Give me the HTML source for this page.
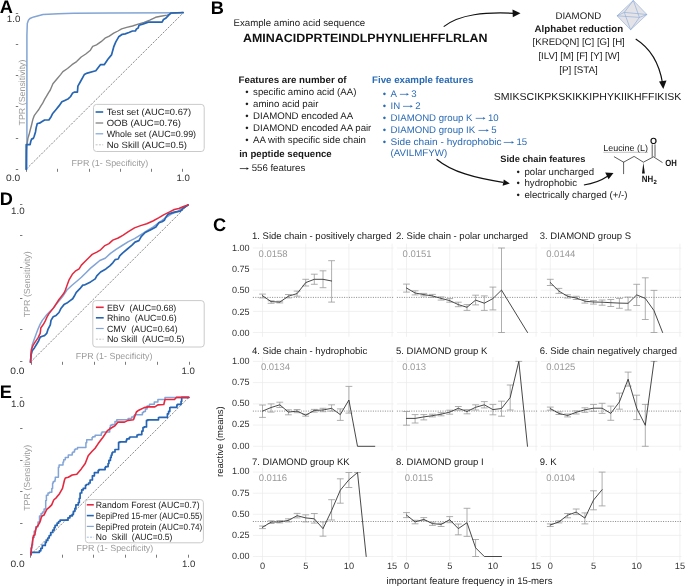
<!DOCTYPE html>
<html><head><meta charset="utf-8"><title>Figure</title>
<style>html,body{margin:0;padding:0;background:#fff;} svg{display:block;will-change:transform;} text{font-family:"Liberation Sans", sans-serif;text-rendering:geometricPrecision;}</style>
</head><body>
<svg width="685" height="588" viewBox="0 0 685 588" font-family='"Liberation Sans", sans-serif'><line x1="15.8" y1="169.5" x2="18.2" y2="169.5" stroke="#7a7a7a" stroke-width="1.0"/>
<line x1="15.8" y1="138.5" x2="18.2" y2="138.5" stroke="#7a7a7a" stroke-width="1.0"/>
<line x1="15.8" y1="106.5" x2="18.2" y2="106.5" stroke="#7a7a7a" stroke-width="1.0"/>
<line x1="15.8" y1="75.5" x2="18.2" y2="75.5" stroke="#7a7a7a" stroke-width="1.0"/>
<line x1="15.8" y1="44.5" x2="18.2" y2="44.5" stroke="#7a7a7a" stroke-width="1.0"/>
<line x1="15.8" y1="13.5" x2="18.2" y2="13.5" stroke="#7a7a7a" stroke-width="1.0"/>
<line x1="26.5" y1="168.8" x2="26.5" y2="171.8" stroke="#7a7a7a" stroke-width="1.0"/>
<line x1="57.5" y1="168.8" x2="57.5" y2="171.8" stroke="#7a7a7a" stroke-width="1.0"/>
<line x1="89.5" y1="168.8" x2="89.5" y2="171.8" stroke="#7a7a7a" stroke-width="1.0"/>
<line x1="120.5" y1="168.8" x2="120.5" y2="171.8" stroke="#7a7a7a" stroke-width="1.0"/>
<line x1="151.5" y1="168.8" x2="151.5" y2="171.8" stroke="#7a7a7a" stroke-width="1.0"/>
<line x1="182.5" y1="168.8" x2="182.5" y2="171.8" stroke="#7a7a7a" stroke-width="1.0"/>
<text x="20.4" y="22.2" font-size="9.3" fill="#333" text-anchor="end" textLength="13.6" lengthAdjust="spacingAndGlyphs">1.0</text>
<text x="20.3" y="181.1" font-size="9.3" fill="#333" text-anchor="end" textLength="14.2" lengthAdjust="spacingAndGlyphs">0.0</text>
<text x="183.1" y="181.1" font-size="9.3" fill="#333" text-anchor="middle" textLength="13.4" lengthAdjust="spacingAndGlyphs">1.0</text>
<text transform="translate(25.3,92.5) rotate(-90)" font-size="8.8" fill="#9a9a9a" text-anchor="middle" textLength="66" lengthAdjust="spacingAndGlyphs">TPR (Sensitivity)</text>
<text x="71.5" y="166.1" font-size="8.8" fill="#9a9a9a" textLength="76.8" lengthAdjust="spacingAndGlyphs">FPR (1- Specificity)</text>
<line x1="26.4" y1="169.0" x2="183.3" y2="12.8" stroke="#666" stroke-width="0.75" stroke-dasharray="2.2,1.3"/>
<path d="M26.9,169.2 L26.9,95.0 L26.9,35.6 L27.3,23.4 L28.4,20.3 L29.9,18.5 L33.8,16.9 L43.0,14.6 L58.3,13.7 L73.6,13.2 L110.0,12.9 L183.3,12.8" fill="none" stroke="#82a4d6" stroke-width="1.5" stroke-linejoin="round" stroke-linecap="round"/>
<path d="M26.2,169.2 L26.5,150.7 L27.2,143.5 L27.9,138.4 L29.0,134.8 L30.1,130.5 L31.6,124.7 L33.0,118.9 L34.4,115.3 L36.6,112.4 L38.8,109.5 L40.9,105.9 L42.4,103.7 L44.6,99.4 L46.7,95.8 L48.9,92.2 L50.3,90.0 L52.9,83.8 L56.7,79.2 L60.6,74.6 L62.9,71.6 L67.5,68.5 L72.0,64.7 L76.6,61.6 L81.2,57.0 L85.8,54.0 L90.4,50.2 L92.7,46.3 L96.5,44.8 L101.1,41.7 L105.0,38.2 L109.3,36.1 L113.7,33.2 L118.0,31.0 L121.6,28.9 L126.7,27.4 L132.5,26.0 L138.2,24.1 L144.0,22.3 L149.8,20.2 L155.6,17.3 L160.7,16.3 L167.2,15.1 L171.5,13.4 L183.1,12.5" fill="none" stroke="#828282" stroke-width="1.4" stroke-linejoin="round" stroke-linecap="round"/>
<path d="M26.2,169.2 L26.2,144.6 L30.1,144.6 L30.8,141.3 L31.6,139.1 L33.3,138.4 L34.2,136.2 L35.5,131.9 L36.2,127.6 L37.3,123.5 L39.5,123.2 L41.7,121.8 L44.6,120.0 L48.9,120.0 L51.1,116.7 L52.5,113.8 L56.1,109.5 L59.0,105.9 L61.9,101.8 L64.8,100.4 L68.4,98.7 L70.6,96.5 L72.7,92.9 L74.2,92.2 L77.4,92.2 L77.9,86.1 L80.5,81.5 L84.3,74.6 L87.3,73.1 L95.8,70.8 L100.4,64.7 L104.2,64.7 L107.9,59.2 L111.5,54.9 L113.7,46.9 L115.8,41.9 L118.7,36.8 L122.3,34.3 L125.2,33.9 L128.9,32.5 L132.5,31.0 L135.4,31.0 L136.5,28.9 L138.2,28.1 L139.0,25.2 L142.6,24.1 L148.4,22.1 L162.1,22.1 L163.5,19.5 L165.7,18.3 L170.8,13.0 L183.1,12.5" fill="none" stroke="#2565b3" stroke-width="1.7" stroke-linejoin="round" stroke-linecap="round"/>
<rect x="93.5" y="104.4" width="110.7" height="47.1" rx="3" fill="#fff" stroke="#c4c4c4" stroke-width="0.9"/>
<line x1="95.6" y1="112.0" x2="103.2" y2="112.0" stroke="#2565b3" stroke-width="1.6"/>
<text x="106.7" y="115.2" font-size="9.0" fill="#1a1a1a" textLength="84.5" lengthAdjust="spacingAndGlyphs">Test set (AUC=0.67)</text>
<line x1="95.6" y1="123.0" x2="103.2" y2="123.0" stroke="#828282" stroke-width="1.3"/>
<text x="106.7" y="126.2" font-size="9.0" fill="#1a1a1a" textLength="74.2" lengthAdjust="spacingAndGlyphs">OOB (AUC=0.76)</text>
<line x1="95.6" y1="133.8" x2="103.2" y2="133.8" stroke="#82a4d6" stroke-width="1.2"/>
<text x="106.7" y="137.0" font-size="9.0" fill="#1a1a1a" textLength="89.4" lengthAdjust="spacingAndGlyphs">Whole set (AUC=0.99)</text>
<line x1="95.6" y1="144.8" x2="103.2" y2="144.8" stroke="#aaa" stroke-width="0.7" stroke-dasharray="2,1.3"/>
<text x="106.7" y="148.0" font-size="9.0" fill="#1a1a1a" textLength="80.3" lengthAdjust="spacingAndGlyphs">No Skill (AUC=0.5)</text>
<line x1="20.0" y1="361.5" x2="22.4" y2="361.5" stroke="#7a7a7a" stroke-width="1.0"/>
<line x1="20.0" y1="329.5" x2="22.4" y2="329.5" stroke="#7a7a7a" stroke-width="1.0"/>
<line x1="20.0" y1="298.5" x2="22.4" y2="298.5" stroke="#7a7a7a" stroke-width="1.0"/>
<line x1="20.0" y1="267.5" x2="22.4" y2="267.5" stroke="#7a7a7a" stroke-width="1.0"/>
<line x1="20.0" y1="235.5" x2="22.4" y2="235.5" stroke="#7a7a7a" stroke-width="1.0"/>
<line x1="20.0" y1="204.5" x2="22.4" y2="204.5" stroke="#7a7a7a" stroke-width="1.0"/>
<line x1="31.5" y1="361.8" x2="31.5" y2="364.8" stroke="#7a7a7a" stroke-width="1.0"/>
<line x1="62.5" y1="361.8" x2="62.5" y2="364.8" stroke="#7a7a7a" stroke-width="1.0"/>
<line x1="94.5" y1="361.8" x2="94.5" y2="364.8" stroke="#7a7a7a" stroke-width="1.0"/>
<line x1="125.5" y1="361.8" x2="125.5" y2="364.8" stroke="#7a7a7a" stroke-width="1.0"/>
<line x1="157.5" y1="361.8" x2="157.5" y2="364.8" stroke="#7a7a7a" stroke-width="1.0"/>
<line x1="189.5" y1="361.8" x2="189.5" y2="364.8" stroke="#7a7a7a" stroke-width="1.0"/>
<text x="24.6" y="214.0" font-size="9.3" fill="#333" text-anchor="end" textLength="13.6" lengthAdjust="spacingAndGlyphs">1.0</text>
<text x="24.5" y="374.1" font-size="9.3" fill="#333" text-anchor="end" textLength="14.2" lengthAdjust="spacingAndGlyphs">0.0</text>
<text x="188.1" y="374.1" font-size="9.3" fill="#333" text-anchor="middle" textLength="13.4" lengthAdjust="spacingAndGlyphs">1.0</text>
<text transform="translate(29.7,284.3) rotate(-90)" font-size="8.8" fill="#9a9a9a" text-anchor="middle" textLength="66" lengthAdjust="spacingAndGlyphs">TPR (Sensitivity)</text>
<text x="75.8" y="358.8" font-size="8.8" fill="#9a9a9a" textLength="76.7" lengthAdjust="spacingAndGlyphs">FPR (1- Specificity)</text>
<line x1="30.6" y1="362.0" x2="188.3" y2="204.6" stroke="#666" stroke-width="0.75" stroke-dasharray="2.2,1.3"/>
<path d="M30.5,362.3 L31.1,352.2 L32.2,345.0 L33.7,340.7 L35.8,334.9 L38.0,329.1 L40.2,324.1 L42.3,320.4 L44.5,317.6 L46.7,314.7 L49.6,311.8 L53.2,308.2 L56.1,304.6 L59.0,300.9 L62.6,296.6 L66.9,290.0 L72.3,285.0 L76.8,281.2 L81.4,277.3 L86.0,272.7 L90.6,268.1 L95.2,264.3 L99.8,260.5 L105.2,258.2 L110.5,253.4 L116.1,249.3 L122.2,245.5 L128.4,241.7 L134.5,238.6 L140.6,234.8 L146.7,231.0 L152.9,227.1 L159.0,222.6 L165.1,218.0 L171.2,214.1 L177.3,211.8 L183.5,207.2 L188.1,205.0" fill="none" stroke="#82a4d6" stroke-width="1.5" stroke-linejoin="round" stroke-linecap="round"/>
<path d="M30.5,362.3 L31.1,355.1 L32.2,350.8 L34.4,347.9 L36.6,344.3 L38.7,340.7 L40.2,337.1 L42.3,336.3 L44.5,335.6 L46.7,333.4 L48.1,329.1 L50.3,324.8 L51.0,320.4 L53.2,316.8 L56.1,315.4 L59.0,312.5 L61.1,308.2 L64.0,304.6 L66.9,303.1 L69.8,300.9 L72.7,298.8 L74.8,295.2 L76.3,292.3 L79.9,288.7 L82.8,285.1 L84.5,285.0 L90.6,281.9 L95.2,278.9 L96.8,275.8 L100.6,272.0 L105.9,268.9 L109.8,265.8 L112.8,262.8 L115.1,259.7 L118.2,259.0 L119.7,255.9 L122.8,252.8 L127.4,249.0 L132.0,245.2 L135.0,242.1 L138.9,240.6 L141.4,236.3 L145.2,232.5 L151.3,229.4 L155.9,227.1 L159.0,222.6 L162.0,221.8 L164.3,220.3 L165.9,217.2 L168.2,214.1 L174.3,212.1 L180.4,211.1 L183.5,208.0 L188.1,205.0" fill="none" stroke="#2565b3" stroke-width="1.7" stroke-linejoin="round" stroke-linecap="round"/>
<path d="M30.5,362.3 L30.8,356.6 L31.5,349.3 L32.9,345.7 L35.1,342.1 L38.0,337.8 L40.2,333.4 L40.9,327.7 L43.1,324.8 L45.2,321.2 L46.7,317.6 L48.8,313.9 L51.0,311.1 L53.9,307.4 L56.1,303.8 L59.0,299.5 L61.8,295.9 L64.0,293.0 L65.4,290.0 L66.9,285.8 L69.2,279.6 L72.3,274.3 L75.3,271.2 L79.1,268.9 L81.4,265.1 L84.5,262.0 L88.3,258.2 L92.2,254.4 L96.8,252.1 L100.6,249.8 L104.4,245.9 L109.0,243.6 L112.8,240.1 L118.2,238.0 L122.8,235.3 L128.4,231.7 L134.5,227.9 L140.6,225.6 L146.7,223.8 L152.9,221.0 L159.0,217.7 L163.6,214.9 L169.7,211.8 L174.3,209.5 L178.9,208.5 L183.5,206.5 L188.1,205.0" fill="none" stroke="#e5283e" stroke-width="1.5" stroke-linejoin="round" stroke-linecap="round"/>
<rect x="92.8" y="300.6" width="111.4" height="46.4" rx="3" fill="#fff" stroke="#c4c4c4" stroke-width="0.9"/>
<line x1="95.9" y1="307.3" x2="103.7" y2="307.3" stroke="#e5283e" stroke-width="1.6"/>
<text x="106.9" y="310.5" font-size="9.0" fill="#1a1a1a" textLength="69.4" lengthAdjust="spacingAndGlyphs">EBV  (AUC=0.68)</text>
<line x1="95.9" y1="317.8" x2="103.7" y2="317.8" stroke="#2565b3" stroke-width="1.6"/>
<text x="106.9" y="321.0" font-size="9.0" fill="#1a1a1a" textLength="69.8" lengthAdjust="spacingAndGlyphs">Rhino  (AUC=0.6)</text>
<line x1="95.9" y1="328.5" x2="103.7" y2="328.5" stroke="#82a4d6" stroke-width="1.2"/>
<text x="106.9" y="331.7" font-size="9.0" fill="#1a1a1a" textLength="70.7" lengthAdjust="spacingAndGlyphs">CMV  (AUC=0.64)</text>
<line x1="95.9" y1="339.2" x2="103.7" y2="339.2" stroke="#aaa" stroke-width="0.7" stroke-dasharray="2,1.3"/>
<text x="106.9" y="342.4" font-size="9.0" fill="#1a1a1a" textLength="77.6" lengthAdjust="spacingAndGlyphs">No Skill  (AUC=0.5)</text>
<line x1="20.1" y1="554.5" x2="22.5" y2="554.5" stroke="#7a7a7a" stroke-width="1.0"/>
<line x1="20.1" y1="523.5" x2="22.5" y2="523.5" stroke="#7a7a7a" stroke-width="1.0"/>
<line x1="20.1" y1="491.5" x2="22.5" y2="491.5" stroke="#7a7a7a" stroke-width="1.0"/>
<line x1="20.1" y1="460.5" x2="22.5" y2="460.5" stroke="#7a7a7a" stroke-width="1.0"/>
<line x1="20.1" y1="428.5" x2="22.5" y2="428.5" stroke="#7a7a7a" stroke-width="1.0"/>
<line x1="20.1" y1="397.5" x2="22.5" y2="397.5" stroke="#7a7a7a" stroke-width="1.0"/>
<line x1="30.5" y1="554.7" x2="30.5" y2="557.7" stroke="#7a7a7a" stroke-width="1.0"/>
<line x1="62.5" y1="554.7" x2="62.5" y2="557.7" stroke="#7a7a7a" stroke-width="1.0"/>
<line x1="93.5" y1="554.7" x2="93.5" y2="557.7" stroke="#7a7a7a" stroke-width="1.0"/>
<line x1="125.5" y1="554.7" x2="125.5" y2="557.7" stroke="#7a7a7a" stroke-width="1.0"/>
<line x1="156.5" y1="554.7" x2="156.5" y2="557.7" stroke="#7a7a7a" stroke-width="1.0"/>
<line x1="188.5" y1="554.7" x2="188.5" y2="557.7" stroke="#7a7a7a" stroke-width="1.0"/>
<text x="24.7" y="406.8" font-size="9.3" fill="#333" text-anchor="end" textLength="13.6" lengthAdjust="spacingAndGlyphs">1.0</text>
<text x="24.6" y="567.0" font-size="9.3" fill="#333" text-anchor="end" textLength="14.2" lengthAdjust="spacingAndGlyphs">0.0</text>
<text x="188.6" y="567.0" font-size="9.3" fill="#333" text-anchor="middle" textLength="13.4" lengthAdjust="spacingAndGlyphs">1.0</text>
<text transform="translate(29.7,477.8) rotate(-90)" font-size="8.8" fill="#9a9a9a" text-anchor="middle" textLength="66" lengthAdjust="spacingAndGlyphs">TPR (Sensitivity)</text>
<text x="76.5" y="551.3" font-size="8.8" fill="#9a9a9a" textLength="76.8" lengthAdjust="spacingAndGlyphs">FPR (1- Specificity)</text>
<line x1="30.7" y1="554.9" x2="188.8" y2="397.4" stroke="#666" stroke-width="0.75" stroke-dasharray="2.2,1.3"/>
<path d="M30.8,555.0 L30.8,548.1 L31.9,548.1 L31.9,545.0 L32.7,545.0 L32.7,537.4 L34.2,537.4 L34.2,531.3 L35.7,531.3 L35.7,526.7 L38.0,526.7 L38.0,522.1 L39.5,522.1 L39.5,515.9 L41.1,515.9 L41.1,513.6 L42.6,513.6 L42.6,512.1 L44.1,512.1 L44.1,509.0 L45.7,509.0 L45.7,500.6 L46.4,500.6 L46.4,495.3 L48.0,495.3 L48.0,493.0 L49.5,493.0 L49.5,492.2 L51.8,492.2 L51.8,488.4 L52.6,488.4 L52.6,483.0 L53.3,483.0 L53.3,481.5 L54.9,481.5 L54.9,480.0 L55.3,480.0 L55.3,477.3 L56.1,477.3 L58.4,477.3 L58.4,467.3 L59.1,467.3 L59.1,465.0 L59.9,465.0 L63.0,465.0 L63.0,462.0 L63.7,462.0 L63.7,459.7 L65.3,459.7 L65.3,457.4 L66.0,457.4 L68.3,457.4 L68.3,455.1 L69.1,455.1 L72.2,455.1 L72.2,452.8 L72.9,452.8 L72.9,452.0 L74.5,452.0 L74.5,449.7 L75.2,449.7 L75.2,449.0 L77.5,449.0 L77.5,447.4 L85.9,447.4 L85.9,442.8 L86.7,442.8 L86.7,439.8 L87.5,439.8 L92.1,439.8 L92.1,437.5 L92.8,437.5 L92.8,436.7 L95.1,436.7 L95.1,435.2 L101.3,435.2 L101.3,432.9 L102.0,432.9 L102.0,432.1 L104.3,432.1 L109.7,432.1 L109.7,427.5 L110.4,427.5 L110.4,425.2 L112.0,425.2 L112.0,424.5 L115.0,424.5 L115.0,421.5 L116.8,421.5 L116.8,419.8 L117.4,419.8 L128.1,419.8 L128.1,418.6 L131.7,418.6 L131.7,417.1 L133.5,417.1 L133.5,416.0 L134.6,416.0 L134.6,414.8 L135.8,414.8 L142.4,414.8 L142.4,412.6 L143.6,412.6 L143.6,411.4 L145.4,411.4 L145.4,409.0 L147.1,409.0 L147.1,406.1 L149.5,406.1 L149.5,404.9 L149.5,404.3 L154.3,404.3 L154.3,402.5 L154.3,401.9 L157.9,401.9 L157.9,399.8 L157.9,399.5 L165.0,399.5 L165.0,397.4 L188.8,397.4" fill="none" stroke="#82a4d6" stroke-width="1.5" stroke-linejoin="round" stroke-linecap="round"/>
<path d="M31.0,554.7 L31.0,552.3 L39.4,552.3 L39.4,550.8 L40.8,550.8 L40.8,548.3 L42.3,548.3 L42.3,545.4 L45.3,545.4 L45.3,542.4 L46.3,542.4 L46.3,540.4 L47.8,540.4 L47.8,538.0 L49.2,538.0 L49.2,535.5 L50.7,535.5 L50.7,532.5 L52.7,532.5 L52.7,530.1 L54.2,530.1 L54.2,527.6 L55.1,527.6 L55.1,525.4 L57.1,525.4 L57.1,523.2 L58.6,523.2 L58.6,521.5 L60.1,521.5 L60.1,520.2 L68.0,520.2 L68.0,517.8 L69.9,517.8 L69.9,515.8 L72.4,515.8 L72.4,514.3 L73.4,514.3 L73.4,511.3 L74.9,511.3 L74.9,508.4 L75.9,508.4 L75.9,504.9 L78.3,504.9 L78.3,502.5 L79.3,502.5 L79.3,500.0 L79.3,498.3 L80.1,498.3 L80.1,493.0 L81.7,493.0 L81.7,489.9 L83.2,489.9 L83.2,488.4 L85.5,488.4 L85.5,485.3 L86.3,485.3 L86.3,484.5 L88.6,484.5 L88.6,483.0 L90.1,483.0 L90.1,480.0 L92.4,480.0 L92.4,475.8 L94.4,475.8 L94.4,472.7 L95.1,472.7 L98.2,472.7 L98.2,470.4 L99.0,470.4 L99.0,469.6 L102.0,469.6 L105.1,469.6 L105.1,467.3 L105.8,467.3 L105.8,466.6 L108.1,466.6 L108.1,463.5 L108.9,463.5 L108.9,460.4 L110.4,460.4 L110.4,457.4 L111.2,457.4 L111.2,455.1 L112.0,455.1 L112.0,452.8 L112.7,452.8 L112.7,452.0 L115.0,452.0 L115.0,449.5 L118.6,449.5 L118.6,442.4 L119.8,442.4 L119.8,441.8 L126.3,441.8 L126.3,440.0 L126.9,440.0 L126.9,438.8 L129.3,438.8 L129.3,437.6 L129.9,437.6 L129.9,437.0 L137.0,437.0 L137.0,435.0 L138.2,435.0 L138.2,434.6 L141.8,434.6 L141.8,431.1 L143.0,431.1 L143.0,427.5 L144.2,427.5 L144.2,426.9 L146.5,426.9 L146.5,420.4 L147.7,420.4 L147.7,419.8 L158.5,419.8 L158.5,417.6 L159.0,417.6 L159.0,417.4 L167.4,417.4 L167.4,413.8 L168.6,413.8 L168.6,411.4 L169.8,411.4 L169.8,407.6 L170.4,407.6 L170.4,407.3 L176.9,407.3 L176.9,404.9 L177.5,404.9 L177.5,404.3 L181.1,404.3 L181.1,401.3 L181.7,401.3 L181.7,397.4 L182.3,397.4 L188.8,397.4" fill="none" stroke="#2565b3" stroke-width="1.7" stroke-linejoin="round" stroke-linecap="round"/>
<path d="M31.0,554.7 L31.5,548.3 L32.5,541.4 L33.5,535.5 L34.9,535.0 L35.4,530.6 L36.4,527.6 L37.9,525.6 L39.4,523.2 L40.4,520.7 L41.3,517.3 L42.3,515.8 L43.8,515.3 L45.3,512.3 L46.8,509.4 L49.2,507.4 L51.7,504.9 L53.7,500.0 L56.4,497.6 L59.5,493.7 L62.5,488.4 L64.5,480.0 L65.3,478.1 L68.3,477.3 L72.2,475.0 L76.8,474.2 L81.3,468.9 L85.2,463.5 L88.2,455.8 L92.1,451.3 L95.1,448.2 L98.2,443.6 L102.8,437.5 L107.4,430.6 L112.0,427.5 L115.0,425.7 L118.0,422.1 L124.5,422.1 L128.1,420.4 L133.5,419.8 L136.4,412.0 L138.8,410.2 L144.2,407.6 L148.3,406.9 L154.9,406.9 L157.9,404.9 L163.8,404.5 L165.0,399.5 L174.5,399.5 L176.3,397.4 L188.8,397.4" fill="none" stroke="#e5283e" stroke-width="1.6" stroke-linejoin="round" stroke-linecap="round"/>
<rect x="85.4" y="499.6" width="118.0" height="43.2" rx="3" fill="#fff" stroke="#c4c4c4" stroke-width="0.9"/>
<line x1="86.8" y1="504.8" x2="93.8" y2="504.8" stroke="#e5283e" stroke-width="1.6"/>
<text x="95.8" y="508.0" font-size="9.0" fill="#1a1a1a" textLength="103.8" lengthAdjust="spacingAndGlyphs">Random Forest (AUC=0.7)</text>
<line x1="86.8" y1="515.6" x2="93.8" y2="515.6" stroke="#2565b3" stroke-width="1.6"/>
<text x="95.8" y="518.8" font-size="9.0" fill="#1a1a1a" textLength="106.4" lengthAdjust="spacingAndGlyphs">BepiPred 15-mer (AUC=0.55)</text>
<line x1="86.8" y1="526.4" x2="93.8" y2="526.4" stroke="#82a4d6" stroke-width="1.2"/>
<text x="95.8" y="529.6" font-size="9.0" fill="#1a1a1a" textLength="106.4" lengthAdjust="spacingAndGlyphs">BepiPred protein (AUC=0.74)</text>
<line x1="86.8" y1="537.2" x2="93.8" y2="537.2" stroke="#82a4d6" stroke-width="0.7" stroke-dasharray="2,1.3"/>
<text x="95.8" y="540.4" font-size="9.0" fill="#1a1a1a" textLength="76.6" lengthAdjust="spacingAndGlyphs">No  Skill  (AUC=0.5)</text>
<text x="-0.2" y="12.9" font-size="18.2" fill="#000" font-weight="bold">A</text>
<text x="210.7" y="14.0" font-size="18.2" fill="#000" font-weight="bold">B</text>
<text x="-0.3" y="204.6" font-size="18.2" fill="#000" font-weight="bold">D</text>
<text x="-0.3" y="397.6" font-size="18.2" fill="#000" font-weight="bold">E</text>
<text x="212.9" y="231.2" font-size="18.2" fill="#000" font-weight="bold">C</text>
<text x="233.5" y="26.3" font-size="9.65" fill="#1a1a1a" textLength="131.6" lengthAdjust="spacingAndGlyphs">Example amino acid sequence</text>
<text x="243.0" y="42.0" font-size="12.0" fill="#111" font-weight="bold" textLength="244.6" lengthAdjust="spacingAndGlyphs">AMINACIDPRTEINDLPHYNLIEHFFLRLAN</text>
<path d="M443.7,26.6 C460,14 485,12 514,13.3" fill="none" stroke="#111" stroke-width="1.2"/>
<path d="M520.5,13.2 L512.5,9.4 L512.8,17.2 Z" fill="#111"/>
<g stroke="#86a8d6" stroke-width="0.6" fill="none" stroke-linejoin="round"><path d="M633.3,0.4 L617.1,15.8 L630.6,29.8 L646.9,14.5Z" fill="#e4e4e8"/><path d="M633.3,0.4 L624.3,12.4 L630.6,29.8"/><path d="M633.3,0.4 L639.4,17.4 L630.6,29.8"/><path d="M617.1,15.8 L624.3,12.4 L646.9,14.5 L639.4,17.4 L617.1,15.8"/></g>
<text x="555.4" y="18.8" font-size="9.6" fill="#1a1a1a" textLength="45.8" lengthAdjust="spacingAndGlyphs">DIAMOND</text>
<text x="534.6" y="31.8" font-size="9.65" fill="#1a1a1a" font-weight="bold" textLength="88.6" lengthAdjust="spacingAndGlyphs">Alphabet reduction</text>
<text x="532.6" y="45.4" font-size="9.6" fill="#1a1a1a" textLength="92.2" lengthAdjust="spacingAndGlyphs">[KREDQN] [C] [G] [H]</text>
<text x="538.4" y="59.1" font-size="9.6" fill="#1a1a1a" textLength="81.2" lengthAdjust="spacingAndGlyphs">[ILV] [M] [F] [Y] [W]</text>
<text x="559.2" y="72.5" font-size="9.6" fill="#1a1a1a" textLength="38.6" lengthAdjust="spacingAndGlyphs">[P] [STA]</text>
<path d="M635.7,39 C650,48 659,62 662.5,83" fill="none" stroke="#111" stroke-width="1.2"/>
<path d="M663.3,89.0 L659.0,81.5 L666.5,80.6 Z" fill="#111"/>
<text x="493.8" y="99.5" font-size="10.2" fill="#1a1a1a" textLength="187.6" lengthAdjust="spacingAndGlyphs">SMIKSCIKPKSKIKKIPHYKIIKHFFIKISK</text>
<text x="238.6" y="83.0" font-size="9.65" fill="#1a1a1a" font-weight="bold" textLength="108.0" lengthAdjust="spacingAndGlyphs">Features are number of</text>
<text x="245.2" y="95.0" font-size="9.6" fill="#1a1a1a">•</text>
<text x="253.1" y="95.0" font-size="9.65" fill="#1a1a1a">specific amino acid (AA)</text>
<text x="245.2" y="106.8" font-size="9.6" fill="#1a1a1a">•</text>
<text x="253.1" y="106.8" font-size="9.65" fill="#1a1a1a">amino acid pair</text>
<text x="245.2" y="118.7" font-size="9.6" fill="#1a1a1a">•</text>
<text x="253.1" y="118.7" font-size="9.65" fill="#1a1a1a">DIAMOND encoded AA</text>
<text x="245.2" y="130.7" font-size="9.6" fill="#1a1a1a">•</text>
<text x="253.1" y="130.7" font-size="9.65" fill="#1a1a1a">DIAMOND encoded AA pair</text>
<text x="245.2" y="142.7" font-size="9.6" fill="#1a1a1a">•</text>
<text x="253.1" y="142.7" font-size="9.65" fill="#1a1a1a">AA with specific side chain</text>
<text x="239.2" y="157.0" font-size="9.65" fill="#1a1a1a" font-weight="bold">in peptide sequence</text>
<path d="M239.8,168.55H247.3" stroke="#1a1a1a" stroke-width="0.75"/>
<path d="M248.9,168.55L246.4,167.15L246.8,168.55L246.4,169.95Z" fill="#1a1a1a"/>
<text x="251.7" y="171.0" font-size="9.65" fill="#1a1a1a">556 features</text>
<text x="372.1" y="82.5" font-size="9.65" fill="#2a6bb6" font-weight="bold" textLength="101.2" lengthAdjust="spacingAndGlyphs">Five example features</text>
<text x="382.8" y="96.8" font-size="9.6" fill="#2a6bb6">•</text>
<text x="390.6" y="96.8" font-size="9.65" fill="#2a6bb6">A</text>
<path d="M399.9,94.35H407.3" stroke="#2a6bb6" stroke-width="0.75"/>
<path d="M408.9,94.35L406.4,92.95L406.8,94.35L406.4,95.75Z" fill="#2a6bb6"/>
<text x="411.3" y="96.8" font-size="9.65" fill="#2a6bb6">3</text>
<text x="382.8" y="108.8" font-size="9.6" fill="#2a6bb6">•</text>
<text x="390.6" y="108.8" font-size="9.65" fill="#2a6bb6">IN</text>
<path d="M403.0,106.35H411.2" stroke="#2a6bb6" stroke-width="0.75"/>
<path d="M412.8,106.35L410.3,104.95L410.7,106.35L410.3,107.75Z" fill="#2a6bb6"/>
<text x="415.2" y="108.8" font-size="9.65" fill="#2a6bb6">2</text>
<text x="382.8" y="120.8" font-size="9.6" fill="#2a6bb6">•</text>
<text x="390.6" y="120.8" font-size="9.65" fill="#2a6bb6">DIAMOND group K</text>
<path d="M475.7,118.35H483.9" stroke="#2a6bb6" stroke-width="0.75"/>
<path d="M485.5,118.35L483.0,116.95L483.4,118.35L483.0,119.75Z" fill="#2a6bb6"/>
<text x="487.9" y="120.8" font-size="9.65" fill="#2a6bb6">10</text>
<text x="382.8" y="132.9" font-size="9.6" fill="#2a6bb6">•</text>
<text x="390.6" y="132.9" font-size="9.65" fill="#2a6bb6">DIAMOND group IK</text>
<path d="M478.5,130.45H487.2" stroke="#2a6bb6" stroke-width="0.75"/>
<path d="M488.8,130.45L486.3,129.05L486.7,130.45L486.3,131.85Z" fill="#2a6bb6"/>
<text x="491.2" y="132.9" font-size="9.65" fill="#2a6bb6">5</text>
<text x="382.8" y="144.9" font-size="9.6" fill="#2a6bb6">•</text>
<text x="390.6" y="144.9" font-size="9.65" fill="#2a6bb6" textLength="111.0" lengthAdjust="spacingAndGlyphs">Side chain - hydrophobic</text>
<path d="M503.7,142.45H512.4" stroke="#2a6bb6" stroke-width="0.75"/>
<path d="M514.0,142.45L511.5,141.05L511.9,142.45L511.5,143.85Z" fill="#2a6bb6"/>
<text x="516.4" y="144.9" font-size="9.65" fill="#2a6bb6">15</text>
<text x="390.6" y="156.2" font-size="9.65" fill="#2a6bb6" textLength="56.6" lengthAdjust="spacingAndGlyphs">(AVILMFYW)</text>
<path d="M436.6,159.2 C452,172 475,178 503,182.3" fill="none" stroke="#111" stroke-width="1.2"/>
<path d="M509.8,183.4 L502.6,185.8 L503.8,179.6 Z" fill="#111"/>
<text x="500.2" y="161.5" font-size="9.25" fill="#1a1a1a" font-weight="bold" textLength="85.2" lengthAdjust="spacingAndGlyphs">Side chain features</text>
<text x="516.4" y="174.5" font-size="9.6" fill="#1a1a1a">•</text>
<text x="524.5" y="174.5" font-size="9.65" fill="#1a1a1a">polar uncharged</text>
<text x="516.4" y="186.0" font-size="9.6" fill="#1a1a1a">•</text>
<text x="524.5" y="186.0" font-size="9.65" fill="#1a1a1a">hydrophobic</text>
<text x="516.4" y="197.5" font-size="9.6" fill="#1a1a1a">•</text>
<text x="524.5" y="197.5" font-size="9.65" fill="#1a1a1a">electrically charged (+/-)</text>
<path d="M583.9,185.0 C594,183.5 602,180 608,176" fill="none" stroke="#111" stroke-width="1.2"/>
<path d="M613.5,173.0 L605.2,172.6 L608.6,179.3 Z" fill="#111"/>
<text x="603.2" y="150.6" font-size="8.9" fill="#222" textLength="44.8" lengthAdjust="spacingAndGlyphs">Leucine (L)</text>
<line x1="603.4" y1="152.3" x2="647.8" y2="152.3" stroke="#999" stroke-width="0.6"/>
<g stroke="#333" stroke-width="0.8" fill="none" stroke-linecap="round"><path d="M614.3,156.8 L623.6,162.2 L634.1,156.4 L643.4,162.2 L653.5,156.8 L662.2,162.4"/><path d="M623.6,162.2 L623.6,173.7"/><path d="M652.2,156.5 L652.2,144.8 M655.0,156.5 L655.0,144.8"/></g>
<path d="M643.4,162.6 L642.0,173.6 L644.8,173.6 Z" fill="#111"/>
<text x="653.6" y="144.2" font-size="9.0" fill="#111" font-weight="bold" text-anchor="middle">O</text>
<text x="665.3" y="166.3" font-size="9.0" fill="#111" font-weight="bold" textLength="11.6" lengthAdjust="spacingAndGlyphs">OH</text>
<text x="641.8" y="181.8" font-size="9.0" fill="#111" font-weight="bold" textLength="11.4" lengthAdjust="spacingAndGlyphs">NH</text>
<text x="653.4" y="184.0" font-size="6.0" fill="#111" font-weight="bold">2</text>
<path d="M252.9,332.5H393.7M252.9,311.4H393.7M252.9,290.2H393.7M252.9,269.1H393.7M252.9,248.0H393.7M262.5,243.7V336.8M305.7,243.7V336.8M348.9,243.7V336.8M392.1,243.7V336.8" stroke="#ebebeb" stroke-width="0.7" fill="none"/>
<line x1="252.9" y1="297.4" x2="393.7" y2="297.4" stroke="#555" stroke-width="0.7" stroke-dasharray="1,1.4"/>
<path d="M262.5,294.1V297.9M259.1,294.1H265.9M259.1,297.9H265.9M271.1,300.8V303.3M267.7,300.8H274.5M267.7,303.3H274.5M279.8,301.2V302.9M276.4,301.2H283.2M276.4,302.9H283.2M288.4,294.5V297.9M285.0,294.5H291.8M285.0,297.9H291.8M297.1,291.1V296.2M293.7,291.1H300.5M293.7,296.2H300.5M305.7,279.3V286.0M302.3,279.3H309.1M302.3,286.0H309.1M314.3,274.2V284.3M310.9,274.2H317.7M310.9,284.3H317.7M323.0,270.8V287.7M319.6,270.8H326.4M319.6,287.7H326.4M331.6,260.7V302.1M328.2,260.7H335.0M328.2,302.1H335.0" stroke="#9a9a9a" stroke-width="0.8" fill="none"/>
<path d="M262.5,295.7 L271.1,301.6 L279.8,302.1 L288.4,296.2 L297.1,293.6 L305.7,282.6 L314.3,279.3 L323.0,279.3 L331.6,281.0" fill="none" stroke="#333" stroke-width="0.9" stroke-linejoin="round" stroke-linecap="round"/>
<text x="252.0" y="238.8" font-size="9.5" fill="#1a1a1a">1. Side chain - positively charged</text>
<text x="258.6" y="256.7" font-size="9.5" fill="#9a9a9a">0.0158</text>
<path d="M396.9,332.5H537.7M396.9,311.4H537.7M396.9,290.2H537.7M396.9,269.1H537.7M396.9,248.0H537.7M406.5,243.7V336.8M449.7,243.7V336.8M492.9,243.7V336.8M536.1,243.7V336.8" stroke="#ebebeb" stroke-width="0.7" fill="none"/>
<line x1="396.9" y1="297.4" x2="537.7" y2="297.4" stroke="#555" stroke-width="0.7" stroke-dasharray="1,1.4"/>
<path d="M406.5,284.1V292.1M403.1,284.1H409.9M403.1,292.1H409.9M415.1,290.8V294.9M411.7,290.8H418.5M411.7,294.9H418.5M423.8,293.4V295.9M420.4,293.4H427.2M420.4,295.9H427.2M432.4,294.4V297.3M429.0,294.4H435.8M429.0,297.3H435.8M441.1,296.9V300.1M437.7,296.9H444.5M437.7,300.1H444.5M449.7,298.6V302.2M446.3,298.6H453.1M446.3,302.2H453.1M458.3,302.2V306.7M454.9,302.2H461.7M454.9,306.7H461.7M467.0,304.6V310.4M463.6,304.6H470.4M463.6,310.4H470.4M475.6,295.2V304.9M472.2,295.2H479.0M472.2,304.9H479.0M484.3,295.9V310.4M480.9,295.9H487.7M480.9,310.4H487.7M492.9,287.1V309.9M489.5,287.1H496.3M489.5,309.9H496.3M501.5,248.0V332.5M498.1,248.0H504.9M498.1,332.5H504.9" stroke="#9a9a9a" stroke-width="0.8" fill="none"/>
<path d="M406.5,288.0 L415.1,293.0 L423.8,294.6 L432.4,295.9 L441.1,298.4 L449.7,300.6 L458.3,304.6 L467.0,307.3 L475.6,300.1 L484.3,303.2 L492.9,298.6 L501.5,290.1 L527.5,332.5" fill="none" stroke="#333" stroke-width="0.9" stroke-linejoin="round" stroke-linecap="round"/>
<text x="396.0" y="238.8" font-size="9.5" fill="#1a1a1a">2. Side chain - polar uncharged</text>
<text x="402.6" y="256.7" font-size="9.5" fill="#9a9a9a">0.0151</text>
<path d="M540.7,332.5H681.5M540.7,311.4H681.5M540.7,290.2H681.5M540.7,269.1H681.5M540.7,248.0H681.5M550.3,243.7V336.8M593.5,243.7V336.8M636.7,243.7V336.8M679.9,243.7V336.8" stroke="#ebebeb" stroke-width="0.7" fill="none"/>
<line x1="540.7" y1="297.4" x2="681.5" y2="297.4" stroke="#555" stroke-width="0.7" stroke-dasharray="1,1.4"/>
<path d="M550.3,279.3V285.5M546.9,279.3H553.7M546.9,285.5H553.7M558.9,288.4V293.4M555.5,288.4H562.3M555.5,293.4H562.3M567.6,294.8V298.0M564.2,294.8H571.0M564.2,298.0H571.0M576.2,296.3V299.5M572.8,296.3H579.6M572.8,299.5H579.6M584.9,299.5V303.1M581.5,299.5H588.3M581.5,303.1H588.3M593.5,300.6V304.1M590.1,300.6H596.9M590.1,304.1H596.9M602.1,300.0V305.2M598.7,300.0H605.5M598.7,305.2H605.5M610.8,299.5V306.5M607.4,299.5H614.2M607.4,306.5H614.2M619.4,298.4V308.3M616.0,298.4H622.8M616.0,308.3H622.8M628.1,297.1V310.0M624.7,297.1H631.5M624.7,310.0H631.5M636.7,284.3V305.5M633.3,284.3H640.1M633.3,305.5H640.1M645.3,277.8V319.5M641.9,277.8H648.7M641.9,319.5H648.7M654.0,290.4V332.5M650.6,290.4H657.4M650.6,332.5H657.4" stroke="#9a9a9a" stroke-width="0.8" fill="none"/>
<path d="M550.3,282.6 L558.9,291.1 L567.6,296.3 L576.2,298.0 L584.9,301.2 L593.5,302.0 L602.1,302.2 L610.8,302.7 L619.4,303.1 L628.1,303.3 L636.7,294.9 L645.3,298.4 L654.0,310.6 L662.6,332.5" fill="none" stroke="#333" stroke-width="0.9" stroke-linejoin="round" stroke-linecap="round"/>
<text x="539.8" y="238.8" font-size="9.5" fill="#1a1a1a">3. DIAMOND group S</text>
<text x="546.2" y="256.7" font-size="9.5" fill="#9a9a9a">0.0144</text>
<text x="249.6" y="335.6" font-size="9.1" fill="#333" text-anchor="end" textLength="17.6" lengthAdjust="spacingAndGlyphs">0.00</text>
<text x="249.6" y="314.5" font-size="9.1" fill="#333" text-anchor="end" textLength="17.6" lengthAdjust="spacingAndGlyphs">0.25</text>
<text x="249.6" y="293.4" font-size="9.1" fill="#333" text-anchor="end" textLength="17.6" lengthAdjust="spacingAndGlyphs">0.50</text>
<text x="249.6" y="272.2" font-size="9.1" fill="#333" text-anchor="end" textLength="17.6" lengthAdjust="spacingAndGlyphs">0.75</text>
<text x="249.6" y="251.1" font-size="9.1" fill="#333" text-anchor="end" textLength="17.6" lengthAdjust="spacingAndGlyphs">1.00</text>
<path d="M252.9,446.3H393.7M252.9,425.1H393.7M252.9,403.9H393.7M252.9,382.6H393.7M252.9,361.4H393.7M262.5,357.1V450.6M305.7,357.1V450.6M348.9,357.1V450.6M392.1,357.1V450.6" stroke="#ebebeb" stroke-width="0.7" fill="none"/>
<line x1="252.9" y1="411.1" x2="393.7" y2="411.1" stroke="#555" stroke-width="0.7" stroke-dasharray="1,1.4"/>
<path d="M262.5,405.0V417.4M259.1,405.0H265.9M259.1,417.4H265.9M271.1,403.9V412.1M267.7,403.9H274.5M267.7,412.1H274.5M279.8,402.2V407.5M276.4,402.2H283.2M276.4,407.5H283.2M288.4,409.8V414.8M285.0,409.8H291.8M285.0,414.8H291.8M297.1,409.5V412.7M293.7,409.5H300.5M293.7,412.7H300.5M305.7,414.2V416.2M302.3,414.2H309.1M302.3,416.2H309.1M314.3,409.4V412.1M310.9,409.4H317.7M310.9,412.1H317.7M323.0,408.3V411.7M319.6,408.3H326.4M319.6,411.7H326.4M331.6,404.8V411.1M328.2,404.8H335.0M328.2,411.1H335.0M340.3,408.9V420.4M336.9,408.9H343.7M336.9,420.4H343.7M348.9,386.4V413.1M345.5,386.4H352.3M345.5,413.1H352.3" stroke="#9a9a9a" stroke-width="0.8" fill="none"/>
<path d="M262.5,411.1 L271.1,407.5 L279.8,404.8 L288.4,412.1 L297.1,411.1 L305.7,415.2 L314.3,410.4 L323.0,410.0 L331.6,408.3 L340.3,414.6 L348.9,400.0 L357.5,446.3 L374.8,446.3" fill="none" stroke="#333" stroke-width="0.9" stroke-linejoin="round" stroke-linecap="round"/>
<text x="252.0" y="353.9" font-size="9.5" fill="#1a1a1a">4. Side chain - hydrophobic</text>
<text x="260.9" y="370.1" font-size="9.5" fill="#9a9a9a">0.0134</text>
<path d="M396.9,446.3H537.7M396.9,425.1H537.7M396.9,403.9H537.7M396.9,382.6H537.7M396.9,361.4H537.7M406.5,357.1V450.6M449.7,357.1V450.6M492.9,357.1V450.6M536.1,357.1V450.6" stroke="#ebebeb" stroke-width="0.7" fill="none"/>
<line x1="396.9" y1="411.1" x2="537.7" y2="411.1" stroke="#555" stroke-width="0.7" stroke-dasharray="1,1.4"/>
<path d="M406.5,411.5V425.2M403.1,411.5H409.9M403.1,425.2H409.9M415.1,414.6V423.0M411.7,414.6H418.5M411.7,423.0H418.5M423.8,414.6V419.9M420.4,414.6H427.2M420.4,419.9H427.2M432.4,414.2V416.9M429.0,414.2H435.8M429.0,416.9H435.8M441.1,412.7V415.8M437.7,412.7H444.5M437.7,415.8H444.5M449.7,410.2V414.2M446.3,410.2H453.1M446.3,414.2H453.1M458.3,406.5V410.2M454.9,406.5H461.7M454.9,410.2H461.7M467.0,409.6V413.8M463.6,409.6H470.4M463.6,413.8H470.4M475.6,404.8V410.0M472.2,404.8H479.0M472.2,410.0H479.0M484.3,401.6V407.9M480.9,401.6H487.7M480.9,407.9H487.7M492.9,404.4V414.8M489.5,404.4H496.3M489.5,414.8H496.3M501.5,401.2V416.2M498.1,401.2H504.9M498.1,416.2H504.9M510.2,385.0V410.0M506.8,385.0H513.6M506.8,410.0H513.6M515.4,361.4H522.2" stroke="#9a9a9a" stroke-width="0.8" fill="none"/>
<path d="M406.5,418.4 L415.1,418.4 L423.8,416.9 L432.4,415.7 L441.1,414.2 L449.7,412.1 L458.3,408.3 L467.0,411.5 L475.6,407.3 L484.3,404.8 L492.9,409.6 L501.5,408.5 L510.2,397.5 L518.8,361.4 L527.5,446.3" fill="none" stroke="#333" stroke-width="0.9" stroke-linejoin="round" stroke-linecap="round"/>
<text x="396.0" y="353.9" font-size="9.5" fill="#1a1a1a">5. DIAMOND group K</text>
<text x="402.2" y="370.1" font-size="9.5" fill="#9a9a9a">0.013</text>
<path d="M540.7,446.3H681.5M540.7,425.1H681.5M540.7,403.9H681.5M540.7,382.6H681.5M540.7,361.4H681.5M550.3,357.1V450.6M593.5,357.1V450.6M636.7,357.1V450.6M679.9,357.1V450.6" stroke="#ebebeb" stroke-width="0.7" fill="none"/>
<line x1="540.7" y1="411.1" x2="681.5" y2="411.1" stroke="#555" stroke-width="0.7" stroke-dasharray="1,1.4"/>
<path d="M550.3,407.1V410.2M546.9,407.1H553.7M546.9,410.2H553.7M558.9,411.9V414.5M555.5,411.9H562.3M555.5,414.5H562.3M567.6,414.0V416.9M564.2,414.0H571.0M564.2,416.9H571.0M576.2,410.9V414.0M572.8,410.9H579.6M572.8,414.0H579.6M584.9,407.8V412.3M581.5,407.8H588.3M581.5,412.3H588.3M593.5,404.4V411.3M590.1,404.4H596.9M590.1,411.3H596.9M602.1,403.3V413.4M598.7,403.3H605.5M598.7,413.4H605.5M610.8,406.1V420.3M607.4,406.1H614.2M607.4,420.3H614.2M619.4,393.1V409.2M616.0,393.1H622.8M616.0,409.2H622.8M628.1,372.1V386.1M624.7,372.1H631.5M624.7,386.1H631.5M636.7,395.2V419.6M633.3,395.2H640.1M633.3,419.6H640.1M645.3,404.4V446.3M641.9,404.4H648.7M641.9,446.3H648.7M650.6,361.4H657.4" stroke="#9a9a9a" stroke-width="0.8" fill="none"/>
<path d="M550.3,408.6 L558.9,413.4 L567.6,415.5 L576.2,412.3 L584.9,409.8 L593.5,408.2 L602.1,408.2 L610.8,413.4 L619.4,401.9 L628.1,379.2 L636.7,408.2 L645.3,425.3 L654.0,361.4" fill="none" stroke="#333" stroke-width="0.9" stroke-linejoin="round" stroke-linecap="round"/>
<text x="539.8" y="353.9" font-size="9.5" fill="#1a1a1a">6. Side chain negatively charged</text>
<text x="546.2" y="370.1" font-size="9.5" fill="#9a9a9a">0.0125</text>
<text x="249.6" y="448.5" font-size="9.1" fill="#333" text-anchor="end" textLength="17.6" lengthAdjust="spacingAndGlyphs">0.00</text>
<text x="249.6" y="427.3" font-size="9.1" fill="#333" text-anchor="end" textLength="17.6" lengthAdjust="spacingAndGlyphs">0.25</text>
<text x="249.6" y="406.1" font-size="9.1" fill="#333" text-anchor="end" textLength="17.6" lengthAdjust="spacingAndGlyphs">0.50</text>
<text x="249.6" y="384.8" font-size="9.1" fill="#333" text-anchor="end" textLength="17.6" lengthAdjust="spacingAndGlyphs">0.75</text>
<text x="249.6" y="363.6" font-size="9.1" fill="#333" text-anchor="end" textLength="17.6" lengthAdjust="spacingAndGlyphs">1.00</text>
<path d="M252.9,556.5H393.7M252.9,535.4H393.7M252.9,514.3H393.7M252.9,493.2H393.7M252.9,472.1H393.7M262.5,467.8V560.8M305.7,467.8V560.8M348.9,467.8V560.8M392.1,467.8V560.8" stroke="#ebebeb" stroke-width="0.7" fill="none"/>
<line x1="252.9" y1="521.5" x2="393.7" y2="521.5" stroke="#555" stroke-width="0.7" stroke-dasharray="1,1.4"/>
<path d="M262.5,526.0V528.6M259.1,526.0H265.9M259.1,528.6H265.9M271.1,520.8V523.5M267.7,520.8H274.5M267.7,523.5H274.5M279.8,520.6V522.9M276.4,520.6H283.2M276.4,522.9H283.2M288.4,518.8V521.9M285.0,518.8H291.8M285.0,521.9H291.8M297.1,513.4V517.9M293.7,513.4H300.5M293.7,517.9H300.5M305.7,514.8V521.9M302.3,514.8H309.1M302.3,521.9H309.1M314.3,513.5V523.1M310.9,513.5H317.7M310.9,523.1H317.7M323.0,521.9V536.2M319.6,521.9H326.4M319.6,536.2H326.4M331.6,499.7V520.0M328.2,499.7H335.0M328.2,520.0H335.0M340.3,478.8V503.2M336.9,478.8H343.7M336.9,503.2H343.7M348.9,472.5V487.5M345.5,472.5H352.3M345.5,487.5H352.3M354.1,472.5H360.9" stroke="#9a9a9a" stroke-width="0.8" fill="none"/>
<path d="M262.5,527.3 L271.1,522.1 L279.8,521.9 L288.4,520.4 L297.1,515.7 L305.7,517.9 L314.3,518.8 L323.0,528.7 L331.6,510.5 L340.3,490.2 L348.9,479.8 L357.5,472.5 L366.2,556.5" fill="none" stroke="#333" stroke-width="0.9" stroke-linejoin="round" stroke-linecap="round"/>
<text x="252.0" y="464.8" font-size="9.5" fill="#1a1a1a">7. DIAMOND group KK</text>
<text x="258.7" y="480.8" font-size="9.5" fill="#9a9a9a">0.0116</text>
<path d="M396.9,556.5H537.7M396.9,535.4H537.7M396.9,514.3H537.7M396.9,493.2H537.7M396.9,472.1H537.7M406.5,467.8V560.8M449.7,467.8V560.8M492.9,467.8V560.8M536.1,467.8V560.8" stroke="#ebebeb" stroke-width="0.7" fill="none"/>
<line x1="396.9" y1="521.5" x2="537.7" y2="521.5" stroke="#555" stroke-width="0.7" stroke-dasharray="1,1.4"/>
<path d="M406.5,512.6V517.6M403.1,512.6H409.9M403.1,517.6H409.9M415.1,520.3V523.8M411.7,520.3H418.5M411.7,523.8H418.5M423.8,517.6V520.7M420.4,517.6H427.2M420.4,520.7H427.2M432.4,522.1V525.4M429.0,522.1H435.8M429.0,525.4H435.8M441.1,523.2V526.5M437.7,523.2H444.5M437.7,526.5H444.5M449.7,516.6V522.7M446.3,516.6H453.1M446.3,522.7H453.1M458.3,524.0V534.8M454.9,524.0H461.7M454.9,534.8H461.7M467.0,508.3V536.4M463.6,508.3H470.4M463.6,536.4H470.4M475.6,539.5V556.5M472.2,539.5H479.0M472.2,556.5H479.0" stroke="#9a9a9a" stroke-width="0.8" fill="none"/>
<path d="M406.5,515.1 L415.1,521.9 L423.8,519.4 L432.4,523.6 L441.1,524.4 L449.7,519.7 L458.3,528.6 L467.0,522.7 L475.6,547.8 L484.3,556.5 L501.5,556.5" fill="none" stroke="#333" stroke-width="0.9" stroke-linejoin="round" stroke-linecap="round"/>
<text x="396.0" y="464.8" font-size="9.5" fill="#1a1a1a">8. DIAMOND group I</text>
<text x="404.7" y="480.8" font-size="9.5" fill="#9a9a9a">0.0115</text>
<path d="M540.7,556.5H681.5M540.7,535.4H681.5M540.7,514.3H681.5M540.7,493.2H681.5M540.7,472.1H681.5M550.3,467.8V560.8M593.5,467.8V560.8M636.7,467.8V560.8M679.9,467.8V560.8" stroke="#ebebeb" stroke-width="0.7" fill="none"/>
<line x1="540.7" y1="521.5" x2="681.5" y2="521.5" stroke="#555" stroke-width="0.7" stroke-dasharray="1,1.4"/>
<path d="M550.3,523.9V526.5M546.9,523.9H553.7M546.9,526.5H553.7M558.9,520.8V522.9M555.5,520.8H562.3M555.5,522.9H562.3M567.6,513.5V517.8M564.2,513.5H571.0M564.2,517.8H571.0M576.2,509.0V514.6M572.8,509.0H579.6M572.8,514.6H579.6M584.9,512.9V523.9M581.5,512.9H588.3M581.5,523.9H588.3M593.5,490.8V509.8M590.1,490.8H596.9M590.1,509.8H596.9M602.1,472.1V505.9M598.7,472.1H605.5M598.7,505.9H605.5" stroke="#9a9a9a" stroke-width="0.8" fill="none"/>
<path d="M550.3,525.0 L558.9,521.9 L567.6,515.2 L576.2,512.1 L584.9,518.1 L593.5,500.1 L602.1,489.7" fill="none" stroke="#333" stroke-width="0.9" stroke-linejoin="round" stroke-linecap="round"/>
<text x="539.8" y="464.8" font-size="9.5" fill="#1a1a1a">9. K</text>
<text x="546.2" y="480.8" font-size="9.5" fill="#9a9a9a">0.0104</text>
<text x="249.6" y="558.8" font-size="9.1" fill="#333" text-anchor="end" textLength="17.6" lengthAdjust="spacingAndGlyphs">0.00</text>
<text x="249.6" y="537.7" font-size="9.1" fill="#333" text-anchor="end" textLength="17.6" lengthAdjust="spacingAndGlyphs">0.25</text>
<text x="249.6" y="516.6" font-size="9.1" fill="#333" text-anchor="end" textLength="17.6" lengthAdjust="spacingAndGlyphs">0.50</text>
<text x="249.6" y="495.5" font-size="9.1" fill="#333" text-anchor="end" textLength="17.6" lengthAdjust="spacingAndGlyphs">0.75</text>
<text x="249.6" y="474.4" font-size="9.1" fill="#333" text-anchor="end" textLength="17.6" lengthAdjust="spacingAndGlyphs">1.00</text>
<text x="262.5" y="569.0" font-size="9.2" fill="#333" text-anchor="middle">0</text>
<text x="305.7" y="569.0" font-size="9.2" fill="#333" text-anchor="middle">5</text>
<text x="348.9" y="569.0" font-size="9.2" fill="#333" text-anchor="middle">10</text>
<text x="392.1" y="569.0" font-size="9.2" fill="#333" text-anchor="middle">15</text>
<text x="406.5" y="569.0" font-size="9.2" fill="#333" text-anchor="middle">0</text>
<text x="449.7" y="569.0" font-size="9.2" fill="#333" text-anchor="middle">5</text>
<text x="492.9" y="569.0" font-size="9.2" fill="#333" text-anchor="middle">10</text>
<text x="536.1" y="569.0" font-size="9.2" fill="#333" text-anchor="middle">15</text>
<text x="550.3" y="569.0" font-size="9.2" fill="#333" text-anchor="middle">0</text>
<text x="593.5" y="569.0" font-size="9.2" fill="#333" text-anchor="middle">5</text>
<text x="636.7" y="569.0" font-size="9.2" fill="#333" text-anchor="middle">10</text>
<text x="679.9" y="569.0" font-size="9.2" fill="#333" text-anchor="middle">15</text>
<text x="386.6" y="584.4" font-size="9.6" fill="#1a1a1a" textLength="165.9" lengthAdjust="spacingAndGlyphs">important feature frequency in 15-mers</text>
<text transform="translate(223.4,441.6) rotate(-90)" font-size="9.4" fill="#1a1a1a" text-anchor="middle" textLength="70.6" lengthAdjust="spacingAndGlyphs">reactive (means)</text></svg>
</body></html>
